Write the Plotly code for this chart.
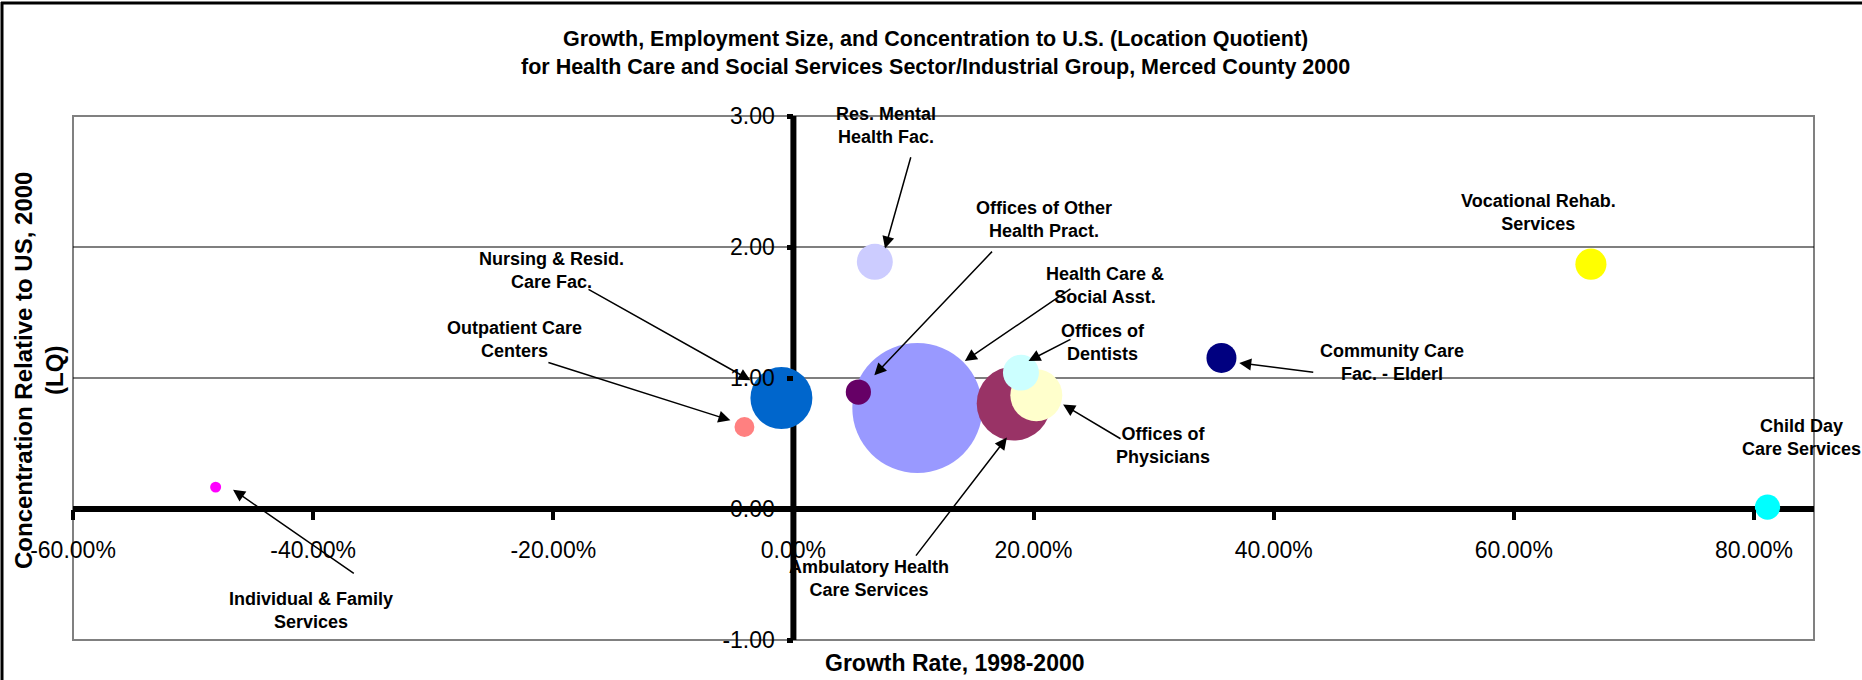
import plotly.graph_objects as go

# ---------------- data ----------------
industries = [
    "Health Care & Social Asst.", "Ambulatory Health Care Services",
    "Nursing & Resid. Care Fac.", "Offices of Physicians", "Offices of Dentists",
    "Offices of Other Health Pract.", "Res. Mental Health Fac.",
    "Vocational Rehab. Services", "Community Care Fac. - Elderl",
    "Child Day Care Services", "Outpatient Care Centers",
    "Individual & Family Services",
]
growth = [0.1032, 0.1835, -0.010, 0.2023, 0.1895, 0.0541, 0.0678, 0.6642, 0.3565, 0.8113, -0.0408, -0.4812]
lq = [0.771, 0.805, 0.847, 0.868, 1.041, 0.893, 1.887, 1.869, 1.153, 0.0145, 0.626, 0.167]
employment = [7700, 2500, 1750, 1230, 590, 290, 590, 440, 410, 290, 180, 55]

x_tickvals = [-0.6, -0.4, -0.2, 0.0, 0.2, 0.4, 0.6, 0.8]
x_ticktext = ["-60.00%", "-40.00%", "-20.00%", "0.00%", "20.00%", "40.00%", "60.00%", "80.00%"]
y_tickvals = [-1, 0, 1, 2, 3]
y_ticktext = ["-1.00", "0.00", "1.00", "2.00", "3.00"]

# ---------------- styles / layout helpers ----------------
colors = ["#9999FF", "#993366", "#0066CC", "#FFFFCC", "#CCFFFF", "#660066",
          "#CCCCFF", "#FFFF00", "#000080", "#00FFFF", "#FF8080", "#FF00FF"]

label_text = [
    "Health Care &<br>Social Asst.", "Ambulatory Health<br>Care Services",
    "Nursing & Resid.<br>Care Fac.", "Offices of<br>Physicians", "Offices of<br>Dentists",
    "Offices of Other<br>Health Pract.", "Res. Mental<br>Health Fac.",
    "Vocational Rehab.<br>Services", "Community Care<br>Fac. - Elderl",
    "Child Day<br>Care Services", "Outpatient Care<br>Centers",
    "Individual & Family<br>Services",
]
label_pos = [(0.2592, 1.706), (0.0631, -0.528), (-0.2017, 1.817), (0.3079, 0.484),
             (0.2578, 1.269), (0.2088, 2.207), (0.0773, 2.924), (0.6208, 2.261),
             (0.4985, 1.119), (0.8395, 0.543), (-0.2325, 1.291), (-0.4017, -0.775)]
# arrow (tail, head) for labels that have one; None otherwise
arrows = [((0.2320, 1.688), (0.1428, 1.130)),
          ((0.1011, -0.3675), (0.1778, 0.545)),
          ((-0.1719, 1.683), (-0.0358, 0.9826)),
          ((0.2737, 0.5295), (0.2246, 0.797)),
          ((0.2320, 1.301), (0.1958, 1.130)),
          ((0.1666, 1.976), (0.0674, 1.021)),
          ((0.0981, 2.697), (0.0763, 1.989)),
          None,
          ((0.4342, 1.0415), (0.3713, 1.115)),
          None,
          ((-0.2053, 1.122), (-0.0525, 0.677)),
          ((-0.3649, -0.4997), (-0.4667, 0.1475))]

W, H = 1862, 680
ML, MR, MT, MB = 73, 48, 116, 40
PW, PH = W - ML - MR, H - MT - MB
FONT = "Arial, Liberation Sans, sans-serif"
xr = [-0.6, 0.85]
yr = [-1, 3]


def px_x(p):
    return (p - ML) / PW


def px_y(p):
    return (H - MB - p) / PH


max_d = 130
sizeref = 2.0 * max(employment) / max_d ** 2

fig = go.Figure()
fig.add_trace(go.Scatter(
    x=growth, y=lq, mode="markers", text=industries,
    marker=dict(size=employment, sizemode="area", sizeref=sizeref,
                color=colors, opacity=1, line=dict(width=0)),
    hovertemplate="%{text}<br>Growth: %{x:.2%}<br>LQ: %{y:.2f}<extra></extra>",
    cliponaxis=False, showlegend=False,
))

annotations = []
for txt, (lx, ly) in zip(label_text, label_pos):
    annotations.append(dict(x=lx, y=ly, xref="x", yref="y", text="<b>" + txt + "</b>",
                            showarrow=False, xanchor="center", yanchor="middle",
                            font=dict(family=FONT, size=18, color="black")))
for a in arrows:
    if a is None:
        continue
    (tx, ty), (hx, hy) = a
    annotations.append(dict(x=hx, y=hy, ax=tx, ay=ty, xref="x", yref="y", axref="x", ayref="y",
                            text="", showarrow=True, arrowhead=2, arrowsize=1.6,
                            arrowwidth=1.5, arrowcolor="black", standoff=0))

annotations.append(dict(
    x=px_x(935), y=px_y(53), xref="paper", yref="paper",
    text="<b>Growth, Employment Size, and Concentration to U.S. (Location Quotient)<br>"
         "for Health Care and Social Services Sector/Industrial Group, Merced County 2000</b>",
    showarrow=False, xanchor="center", yanchor="middle",
    font=dict(family=FONT, size=21.5, color="black")))
annotations.append(dict(
    x=px_x(955), y=px_y(663), xref="paper", yref="paper",
    text="<b>Growth Rate, 1998-2000</b>", showarrow=False, xanchor="center", yanchor="middle",
    font=dict(family=FONT, size=23, color="black")))
annotations.append(dict(
    x=px_x(39), y=px_y(371), xref="paper", yref="paper", textangle=-90,
    text="<b>Concentration Relative to US, 2000<br>(LQ)</b>", showarrow=False,
    xanchor="center", yanchor="middle",
    font=dict(family=FONT, size=24, color="black")))

shapes = [
    # plot border
    dict(type="rect", xref="paper", yref="paper", x0=0, x1=1, y0=0, y1=1,
         line=dict(color="#808080", width=2), layer="below"),
    # horizontal gridlines
    dict(type="line", xref="paper", yref="y", x0=0, x1=1, y0=1, y1=1,
         line=dict(color="black", width=1.2), layer="below"),
    dict(type="line", xref="paper", yref="y", x0=0, x1=1, y0=2, y1=2,
         line=dict(color="black", width=1.2), layer="below"),
    # crossing axis lines
    dict(type="line", xref="paper", yref="y", x0=0, x1=1, y0=0, y1=0,
         line=dict(color="black", width=6), layer="below"),
    dict(type="line", xref="x", yref="paper", x0=0, x1=0, y0=0, y1=1,
         line=dict(color="black", width=6), layer="below"),
    # outer chart frame
    dict(type="line", xref="paper", yref="paper", x0=px_x(1), x1=px_x(W + 10),
         y0=px_y(3), y1=px_y(3), line=dict(color="black", width=3)),
    dict(type="line", xref="paper", yref="paper", x0=px_x(2), x1=px_x(2),
         y0=px_y(2), y1=px_y(H + 10), line=dict(color="black", width=3)),
]

fig.update_layout(
    width=W, height=H, margin=dict(l=ML, r=MR, t=MT, b=MB, pad=0),
    paper_bgcolor="white", plot_bgcolor="white",
    font=dict(family=FONT, color="black"),
    xaxis=dict(range=xr, anchor="free", position=(0 - yr[0]) / (yr[1] - yr[0]),
               tickvals=x_tickvals, ticktext=x_ticktext, showgrid=False, zeroline=False,
               showline=False, ticks="outside", ticklen=10, tickwidth=4, tickcolor="black",
               ticklabelstandoff=10, tickfont=dict(family=FONT, size=23, color="black")),
    yaxis=dict(range=yr, anchor="free", position=(0 - xr[0]) / (xr[1] - xr[0]),
               tickvals=y_tickvals, ticktext=y_ticktext, showgrid=False, zeroline=False,
               showline=False, ticks="outside", ticklen=6, tickwidth=5, tickcolor="black",
               ticklabelstandoff=8, tickfont=dict(family=FONT, size=23, color="black")),
    annotations=annotations, shapes=shapes, showlegend=False,
)

fig.write_html("out.html", config={"displayModeBar": False},
               post_script="document.body.style.margin='0';document.body.style.overflow='hidden';")
